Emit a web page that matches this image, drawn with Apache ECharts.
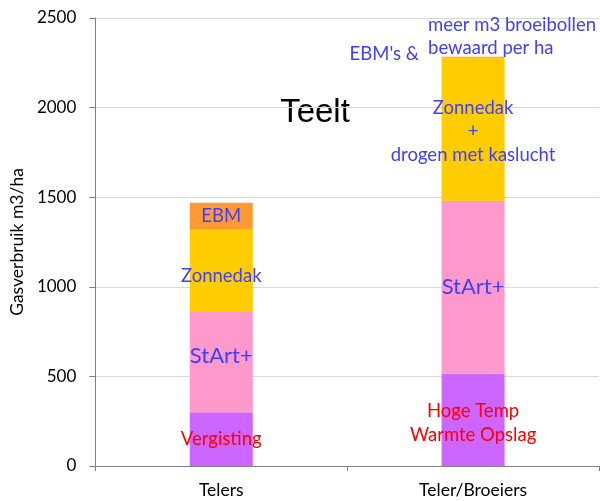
<!DOCTYPE html>
<html><head><meta charset="utf-8">
<script src="https://cdn.jsdelivr.net/npm/echarts@6/dist/echarts.min.js"></script>
<style>html,body{margin:0;padding:0;background:#fff}#c{width:600px;height:501px}</style>
</head><body><div id="c"></div>
<script>
var categories = ['Telers', 'Teler/Broeiers'];
var vergisting = [300, 515];
var start = [560, 965];
var zonnedak = [462, 798];
var ebm = [147, 6];
var yTicks = [0, 500, 1000, 1500, 2000, 2500];

var FONT = 'Lato';
var BLUE = '#3F3FFF';
var RED = '#FF0000';

function lbl(txt, color, size, dy) {
  return { show: true, position: 'inside', formatter: txt, color: color, fontSize: size, fontFamily: FONT, offset: [0, dy || 0], lineHeight: 23.5 };
}

var chart = echarts.init(document.getElementById('c'));
chart.setOption({
  animation: false,
  grid: { left: 95, right: 1, top: 18, bottom: 35 },
  graphic: [{ type: 'text', x: 315, y: 113, style: { text: 'Teelt', fontSize: 33, fontFamily: 'Liberation Sans', fill: '#000', textAlign: 'center', textVerticalAlign: 'middle' } }],
  xAxis: {
    type: 'category', data: categories,
    axisLine: { lineStyle: { color: '#808080', width: 1 } },
    axisTick: { show: true, length: 5, lineStyle: { color: '#808080' } },
    axisLabel: { fontSize: 17.5, fontFamily: FONT, color: '#000', margin: 15 }
  },
  yAxis: {
    type: 'value', min: 0, max: 2500, interval: 500,
    name: 'Gasverbruik m3/ha', nameLocation: 'middle', nameGap: 66,
    nameTextStyle: { fontSize: 17.5, fontFamily: FONT, color: '#000' },
    axisLine: { show: true, lineStyle: { color: '#808080' } },
    axisTick: { show: true, length: 6, lineStyle: { color: '#808080' } },
    axisLabel: { fontSize: 17, fontFamily: FONT, color: '#000', margin: 19,
      formatter: function (v) { return yTicks.indexOf(v) >= 0 ? String(v) : ''; } },
    splitLine: { lineStyle: { color: '#D9D9D9' } }
  },
  series: [
    { type: 'bar', stack: 's', barWidth: 63, itemStyle: { color: '#CC66FF' },
      data: [
        { value: vergisting[0], label: lbl('Vergisting', RED, 18.5, 0) },
        { value: vergisting[1], label: lbl('Hoge Temp\nWarmte Opslag', RED, 18.5, 3) }
      ] },
    { type: 'bar', stack: 's', barWidth: 63, itemStyle: { color: '#FF99CC' },
      data: [
        { value: start[0], label: lbl('StArt+', BLUE, 22, -6) },
        { value: start[1], label: lbl('StArt+', BLUE, 22, 0) }
      ] },
    { type: 'bar', stack: 's', barWidth: 63, itemStyle: { color: '#FFCC00' },
      data: [
        { value: zonnedak[0], label: lbl('Zonnedak', BLUE, 18.5, 6) },
        { value: zonnedak[1], label: lbl('Zonnedak\n+\ndrogen met kaslucht', BLUE, 18.5, 2) }
      ] },
    { type: 'bar', stack: 's', barWidth: 63, itemStyle: { color: '#FF9933' },
      data: [
        { value: ebm[0], label: lbl('EBM', BLUE, 18.5, 0) },
        { value: ebm[1], label: lbl("EBM's &", BLUE, 18.5, -15) }
      ],
      labelLayout: function (p) { return p.dataIndex === 1 ? { x: p.rect.x - 92 } : {}; },
      markPoint: {
        symbolSize: 0,
        data: [{ coord: ['Teler/Broeiers', 2284], value: 0 }],
        label: { show: true, position: 'inside', align: 'left', offset: [-45, -20], formatter: 'meer m3 broeibollen\nbewaard per ha', color: BLUE, fontSize: 18.5, fontFamily: FONT, lineHeight: 23 }
      }
    }
  ]
});
</script></body></html>
